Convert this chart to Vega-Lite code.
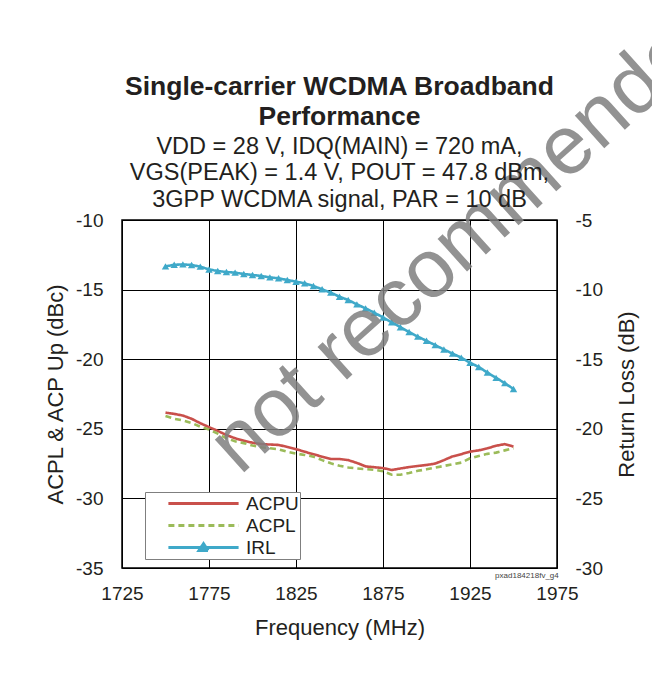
{
  "$schema": "https://vega.github.io/schema/vega-lite/v6.json",
  "width": 435,
  "height": 348,
  "autosize": {"type": "none"},
  "padding": {"left": 122, "top": 220, "right": 95, "bottom": 107},
  "background": "white",
  "config": {
    "font": "Liberation Sans",
    "view": {"stroke": "#000000", "strokeWidth": 1.5},
    "axis": {
      "labelFont": "Liberation Sans",
      "titleFont": "Liberation Sans",
      "labelFontSize": 19,
      "titleFontSize": 22,
      "titleFontWeight": "normal",
      "labelColor": "#231f20",
      "titleColor": "#231f20",
      "ticks": false,
      "domain": false,
      "gridColor": "#000000",
      "gridWidth": 1,
      "gridOpacity": 1
    },
    "legend": {
      "labelFont": "Liberation Sans",
      "labelFontSize": 19,
      "labelColor": "#231f20"
    }
  },
  "title": {
    "text": ["Single-carrier WCDMA Broadband", "Performance"],
    "subtitle": ["VDD = 28 V, IDQ(MAIN) = 720 mA,", "VGS(PEAK) = 1.4 V, POUT = 47.8 dBm,", "3GPP WCDMA signal, PAR = 10 dB"],
    "font": "Liberation Sans",
    "fontSize": 26.5,
    "fontWeight": "bold",
    "color": "#231f20",
    "lineHeight": 30,
    "subtitleFont": "Liberation Sans",
    "subtitleFontSize": 23.5,
    "subtitleColor": "#231f20",
    "subtitleLineHeight": 26.5,
    "subtitlePadding": 4,
    "anchor": "middle",
    "offset": -232
  },
  "datasets": {
    "acp": [
      {"freq": 1750, "value": -23.84, "series": "ACPU"},
      {"freq": 1755, "value": -23.93, "series": "ACPU"},
      {"freq": 1760, "value": -24.05, "series": "ACPU"},
      {"freq": 1765, "value": -24.28, "series": "ACPU"},
      {"freq": 1770, "value": -24.6, "series": "ACPU"},
      {"freq": 1775, "value": -24.88, "series": "ACPU"},
      {"freq": 1780, "value": -25.15, "series": "ACPU"},
      {"freq": 1785, "value": -25.45, "series": "ACPU"},
      {"freq": 1790, "value": -25.68, "series": "ACPU"},
      {"freq": 1795, "value": -25.86, "series": "ACPU"},
      {"freq": 1800, "value": -26.0, "series": "ACPU"},
      {"freq": 1805, "value": -26.1, "series": "ACPU"},
      {"freq": 1810, "value": -26.13, "series": "ACPU"},
      {"freq": 1815, "value": -26.16, "series": "ACPU"},
      {"freq": 1820, "value": -26.3, "series": "ACPU"},
      {"freq": 1825, "value": -26.46, "series": "ACPU"},
      {"freq": 1830, "value": -26.65, "series": "ACPU"},
      {"freq": 1835, "value": -26.83, "series": "ACPU"},
      {"freq": 1840, "value": -27.0, "series": "ACPU"},
      {"freq": 1845, "value": -27.17, "series": "ACPU"},
      {"freq": 1850, "value": -27.17, "series": "ACPU"},
      {"freq": 1855, "value": -27.25, "series": "ACPU"},
      {"freq": 1860, "value": -27.45, "series": "ACPU"},
      {"freq": 1865, "value": -27.7, "series": "ACPU"},
      {"freq": 1870, "value": -27.76, "series": "ACPU"},
      {"freq": 1875, "value": -27.82, "series": "ACPU"},
      {"freq": 1880, "value": -27.96, "series": "ACPU"},
      {"freq": 1885, "value": -27.85, "series": "ACPU"},
      {"freq": 1890, "value": -27.75, "series": "ACPU"},
      {"freq": 1895, "value": -27.67, "series": "ACPU"},
      {"freq": 1900, "value": -27.6, "series": "ACPU"},
      {"freq": 1905, "value": -27.5, "series": "ACPU"},
      {"freq": 1910, "value": -27.25, "series": "ACPU"},
      {"freq": 1915, "value": -26.98, "series": "ACPU"},
      {"freq": 1920, "value": -26.82, "series": "ACPU"},
      {"freq": 1925, "value": -26.64, "series": "ACPU"},
      {"freq": 1930, "value": -26.55, "series": "ACPU"},
      {"freq": 1935, "value": -26.4, "series": "ACPU"},
      {"freq": 1940, "value": -26.22, "series": "ACPU"},
      {"freq": 1945, "value": -26.1, "series": "ACPU"},
      {"freq": 1950, "value": -26.28, "series": "ACPU"},
      {"freq": 1750, "value": -24.08, "series": "ACPL"},
      {"freq": 1755, "value": -24.28, "series": "ACPL"},
      {"freq": 1760, "value": -24.4, "series": "ACPL"},
      {"freq": 1765, "value": -24.58, "series": "ACPL"},
      {"freq": 1770, "value": -24.85, "series": "ACPL"},
      {"freq": 1775, "value": -25.05, "series": "ACPL"},
      {"freq": 1780, "value": -25.35, "series": "ACPL"},
      {"freq": 1785, "value": -25.68, "series": "ACPL"},
      {"freq": 1790, "value": -25.9, "series": "ACPL"},
      {"freq": 1795, "value": -26.03, "series": "ACPL"},
      {"freq": 1800, "value": -26.2, "series": "ACPL"},
      {"freq": 1805, "value": -26.32, "series": "ACPL"},
      {"freq": 1810, "value": -26.4, "series": "ACPL"},
      {"freq": 1815, "value": -26.47, "series": "ACPL"},
      {"freq": 1820, "value": -26.65, "series": "ACPL"},
      {"freq": 1825, "value": -26.78, "series": "ACPL"},
      {"freq": 1830, "value": -26.88, "series": "ACPL"},
      {"freq": 1835, "value": -27.0, "series": "ACPL"},
      {"freq": 1840, "value": -27.25, "series": "ACPL"},
      {"freq": 1845, "value": -27.48, "series": "ACPL"},
      {"freq": 1850, "value": -27.65, "series": "ACPL"},
      {"freq": 1855, "value": -27.78, "series": "ACPL"},
      {"freq": 1860, "value": -27.85, "series": "ACPL"},
      {"freq": 1865, "value": -27.9, "series": "ACPL"},
      {"freq": 1870, "value": -27.95, "series": "ACPL"},
      {"freq": 1875, "value": -28.05, "series": "ACPL"},
      {"freq": 1880, "value": -28.3, "series": "ACPL"},
      {"freq": 1885, "value": -28.3, "series": "ACPL"},
      {"freq": 1890, "value": -28.17, "series": "ACPL"},
      {"freq": 1895, "value": -28.02, "series": "ACPL"},
      {"freq": 1900, "value": -27.91, "series": "ACPL"},
      {"freq": 1905, "value": -27.79, "series": "ACPL"},
      {"freq": 1910, "value": -27.67, "series": "ACPL"},
      {"freq": 1915, "value": -27.55, "series": "ACPL"},
      {"freq": 1920, "value": -27.43, "series": "ACPL"},
      {"freq": 1925, "value": -27.12, "series": "ACPL"},
      {"freq": 1930, "value": -26.95, "series": "ACPL"},
      {"freq": 1935, "value": -26.8, "series": "ACPL"},
      {"freq": 1940, "value": -26.71, "series": "ACPL"},
      {"freq": 1945, "value": -26.55, "series": "ACPL"},
      {"freq": 1950, "value": -26.4, "series": "ACPL"}
    ],
    "irl": [
      {"freq": 1750, "rl": -8.33, "series": "IRL"},
      {"freq": 1755, "rl": -8.22, "series": "IRL"},
      {"freq": 1760, "rl": -8.19, "series": "IRL"},
      {"freq": 1765, "rl": -8.23, "series": "IRL"},
      {"freq": 1770, "rl": -8.35, "series": "IRL"},
      {"freq": 1775, "rl": -8.55, "series": "IRL"},
      {"freq": 1780, "rl": -8.66, "series": "IRL"},
      {"freq": 1785, "rl": -8.74, "series": "IRL"},
      {"freq": 1790, "rl": -8.78, "series": "IRL"},
      {"freq": 1795, "rl": -8.88, "series": "IRL"},
      {"freq": 1800, "rl": -8.95, "series": "IRL"},
      {"freq": 1805, "rl": -9.02, "series": "IRL"},
      {"freq": 1810, "rl": -9.12, "series": "IRL"},
      {"freq": 1815, "rl": -9.19, "series": "IRL"},
      {"freq": 1820, "rl": -9.31, "series": "IRL"},
      {"freq": 1825, "rl": -9.43, "series": "IRL"},
      {"freq": 1830, "rl": -9.55, "series": "IRL"},
      {"freq": 1835, "rl": -9.74, "series": "IRL"},
      {"freq": 1840, "rl": -9.98, "series": "IRL"},
      {"freq": 1845, "rl": -10.22, "series": "IRL"},
      {"freq": 1850, "rl": -10.51, "series": "IRL"},
      {"freq": 1855, "rl": -10.75, "series": "IRL"},
      {"freq": 1860, "rl": -11.06, "series": "IRL"},
      {"freq": 1865, "rl": -11.35, "series": "IRL"},
      {"freq": 1870, "rl": -11.66, "series": "IRL"},
      {"freq": 1875, "rl": -12.0, "series": "IRL"},
      {"freq": 1880, "rl": -12.35, "series": "IRL"},
      {"freq": 1885, "rl": -12.7, "series": "IRL"},
      {"freq": 1890, "rl": -13.05, "series": "IRL"},
      {"freq": 1895, "rl": -13.38, "series": "IRL"},
      {"freq": 1900, "rl": -13.68, "series": "IRL"},
      {"freq": 1905, "rl": -13.99, "series": "IRL"},
      {"freq": 1910, "rl": -14.3, "series": "IRL"},
      {"freq": 1915, "rl": -14.6, "series": "IRL"},
      {"freq": 1920, "rl": -14.89, "series": "IRL"},
      {"freq": 1925, "rl": -15.25, "series": "IRL"},
      {"freq": 1930, "rl": -15.56, "series": "IRL"},
      {"freq": 1935, "rl": -15.96, "series": "IRL"},
      {"freq": 1940, "rl": -16.34, "series": "IRL"},
      {"freq": 1945, "rl": -16.72, "series": "IRL"},
      {"freq": 1950, "rl": -17.14, "series": "IRL"}
    ],
    "notes": [
      {"freq": 1792.8, "rl": -23.39, "label": "not recommended"}
    ],
    "code": [
      {"freq": 1976, "rl": -30, "label": "pxad184218fv_g4"}
    ]
  },
  "layer": [
    {
      "data": {"name": "acp"},
      "mark": {"type": "line", "strokeWidth": 2.6, "clip": true},
      "encoding": {
        "x": {
          "field": "freq", "type": "quantitative",
          "scale": {"domain": [1725, 1975], "nice": false, "zero": false},
          "axis": {"title": "Frequency (MHz)", "values": [1725, 1775, 1825, 1875, 1925, 1975], "labelExpr": "'' + datum.value", "labelPadding": 16, "titlePadding": 14, "grid": true, "labelFlush": false, "labelOverlap": false}
        },
        "y": {
          "field": "value", "type": "quantitative",
          "scale": {"domain": [-35, -10], "nice": false, "zero": false},
          "axis": {"title": "ACPL & ACP Up (dBc)", "orient": "left", "values": [-35, -30, -25, -20, -15, -10], "labelExpr": "'' + datum.value", "labelPadding": 19, "titlePadding": 8, "grid": true, "labelFlush": false}
        },
        "color": {
          "field": "series", "type": "nominal",
          "scale": {"domain": ["ACPU", "ACPL", "IRL"], "range": ["#C9504B", "#9BBB59", "#3FA9C9"]},
          "legend": {
            "title": null, "orient": "none", "legendX": 23, "legendY": 272,
            "symbolType": "M-3.9,0H3.9", "symbolSize": 324, "symbolStrokeWidth": 3,
            "fillColor": "#ffffff", "strokeColor": "#7f7f7f", "padding": 1, "symbolOffset": 47,
            "labelOffset": 32, "rowPadding": 1,
            "labelExpr": "datum.label + '\u2002\u2002\u2002'",
            "encode": {
              "symbols": {
                "update": {
                  "shape": {"signal": "datum.value === 'IRL' ? 'M-3.9,0H3.9M-0.5,0.33L0.5,0.33L0,-0.42Z' : 'M-3.9,0H3.9'"},
                  "fill": {"signal": "scale('color', datum.value)"}
                }
              }
            }
          }
        },
        "strokeDash": {
          "field": "series", "type": "nominal",
          "scale": {"domain": ["ACPU", "ACPL", "IRL"], "range": [[1, 0], [6, 4], [1, 0]]},
          "legend": null
        },
        "order": {"field": "freq"}
      }
    },
    {
      "layer": [
        {
          "data": {"name": "irl"},
          "mark": {"type": "line", "strokeWidth": 2.6},
          "encoding": {
            "x": {"field": "freq", "type": "quantitative"},
            "y": {
              "field": "rl", "type": "quantitative",
              "scale": {"domain": [-30, -5], "nice": false, "zero": false},
              "axis": {"title": "Return Loss (dB)", "orient": "right", "values": [-30, -25, -20, -15, -10, -5], "labelExpr": "'' + datum.value", "labelPadding": 18, "titlePadding": 14, "grid": false, "titleAngle": 270, "titleBaseline": "top", "labelFlush": false}
            },
            "color": {"field": "series", "type": "nominal"},
            "strokeDash": {"field": "series", "type": "nominal"}
          }
        },
        {
          "data": {"name": "irl"},
          "mark": {"type": "point", "shape": "triangle-up", "filled": true, "size": 55, "opacity": 1},
          "encoding": {
            "x": {"field": "freq", "type": "quantitative"},
            "y": {"field": "rl", "type": "quantitative"},
            "color": {"field": "series", "type": "nominal"}
          }
        },
        {
          "data": {"name": "code"},
          "mark": {"type": "text", "align": "right", "baseline": "top", "dy": 4, "fontSize": 8, "color": "#444444", "font": "Liberation Sans"},
          "encoding": {
            "x": {"field": "freq", "type": "quantitative"},
            "y": {"field": "rl", "type": "quantitative"},
            "text": {"field": "label"}
          }
        },
        {
          "data": {"name": "notes"},
          "mark": {"type": "text", "align": "left", "baseline": "alphabetic", "angle": -42, "fontSize": 83, "color": "#808080", "opacity": 0.85, "font": "Liberation Sans"},
          "encoding": {
            "x": {"field": "freq", "type": "quantitative"},
            "y": {"field": "rl", "type": "quantitative"},
            "text": {"field": "label"}
          }
        }
      ]
    }
  ],
  "resolve": {"scale": {"y": "independent"}}
}
